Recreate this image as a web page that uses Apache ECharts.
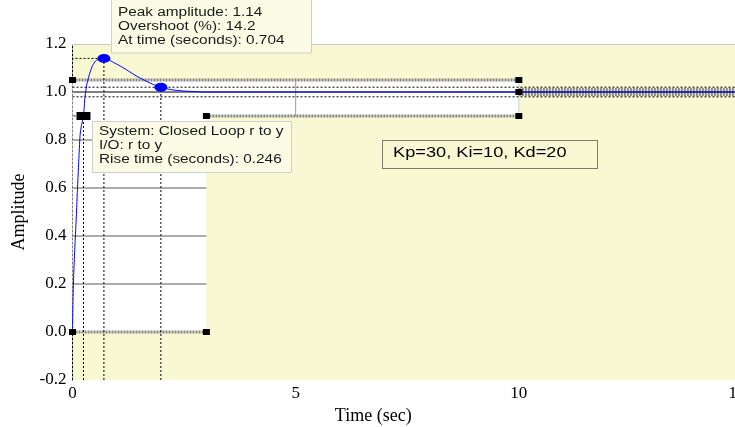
<!DOCTYPE html>
<html>
<head>
<meta charset="utf-8">
<script src="https://cdn.jsdelivr.net/npm/echarts@6/dist/echarts.min.js"></script>
<style>
  html, body { margin: 0; padding: 0; background: #fff; }
  #chart { width: 735px; height: 427px; }
</style>
</head>
<body>
<div id="chart"></div>
<script>
// Closed-loop step response (r to y) of the PID loop, Kp=30, Ki=10, Kd=20
const timeSec   = [0, 0.01, 0.02, 0.04, 0.06, 0.09, 0.11, 0.14, 0.17, 0.2, 0.246, 0.28, 0.33, 0.39, 0.45, 0.52, 0.6, 0.704, 0.8, 0.95, 1.1, 1.25, 1.4, 1.6, 1.8, 1.98, 2.2, 2.5, 3, 4, 5, 6, 8, 10, 12, 15];
const amplitude = [0, 0.12, 0.2, 0.3, 0.38, 0.5, 0.59, 0.71, 0.82, 0.86, 0.9, 0.98, 1.04, 1.08, 1.11, 1.13, 1.138, 1.14, 1.135, 1.12, 1.105, 1.088, 1.07, 1.05, 1.032, 1.02, 1.01, 1.004, 1.0, 1.0, 1.0, 1.0, 1.0, 1.0, 1.0, 1.0];

// Response characteristics
const peakPoint   = [0.704, 1.14];
const risePoint   = [0.246, 0.9];
const settlePoint = [1.98, 1.02];
const steadyState = 1.0;
const settleBand  = [0.98, 1.02];

// Highlighted regions and their handle lines
const whiteBoxes    = [[[0, 0], [3, 1.05]], [[3, 0.9], [10, 1.05]]];
const gridRows      = [0.2, 0.4, 0.6, 0.8];
const gridRowSpan   = [0, 3];
const boxDividers   = [[[5, 0.9], [5, 1.05]], [[10, 0.9], [10, 1.05]]];
const handleLines   = [[[0, 1.05], [10, 1.05]], [[3, 0.9], [10, 0.9]], [[0, 0], [3, 0]]];
const bandLine      = [[10, 1.0], [15, 1.0]];
const handleSquares = [[0, 1.05], [10, 1.05], [3, 0.9], [10, 0.9], [0, 0], [3, 0], [10, 1.0]];

// Axis ranges
const xRange = [0, 15], xStep = 5;
const yRange = [-0.2, 1.2], yStep = 0.2;

// Annotation texts
const peakLines = ['Peak amplitude: 1.14', 'Overshoot (%): 14.2', 'At time (seconds): 0.704'];
const riseLines = ['System: Closed Loop r to y', 'I/O: r to y', 'Rise time (seconds): 0.246'];
const gainText  = 'Kp=30, Ki=10, Kd=20';

const serif = 'Liberation Serif';
const sans  = 'Liberation Sans';
const yMin = yRange[0];

function seg(points, lineStyle, z) {
  return { type: 'line', data: points, symbol: 'none', silent: true, animation: false, lineStyle, z };
}

const series = [];

// white highlight regions
series.push({
  type: 'line', data: [], silent: true, z: 1,
  markArea: {
    silent: true,
    itemStyle: { color: '#ffffff', borderWidth: 0 },
    data: whiteBoxes.map(b => [{ coord: b[0] }, { coord: b[1] }])
  }
});

// grid rows inside the left region
gridRows.forEach(v => series.push(seg([[gridRowSpan[0], v], [gridRowSpan[1], v]], { color: '#5a5a5a', width: 1 }, 2)));
series.push(seg(boxDividers[0], { color: '#9a9a9a', width: 1 }, 2));
series.push(seg(boxDividers[1], { color: '#cfcfcf', width: 1 }, 2));

// thick handle lines
handleLines.forEach(l => series.push(seg(l, { color: '#858585', width: 3, type: [2, 1] }, 3)));
series.push(seg(bandLine, { color: '#8a8a8a', width: 8, type: [2, 1] }, 3));

// settling band and steady-state level
settleBand.forEach(v => series.push(seg([[xRange[0], v], [xRange[1], v]], { color: '#000', width: 1, type: [2, 2] }, 4)));
series.push(seg([[xRange[0], steadyState], [xRange[1], steadyState]], { color: '#000', width: 1 }, 4));

// characteristic guide lines
series.push(seg([[risePoint[0], yMin], risePoint, [xRange[0], risePoint[1]]], { color: '#000', width: 1, type: [2, 2] }, 4));
series.push(seg([[peakPoint[0], yMin], peakPoint, [xRange[0], peakPoint[1]]], { color: '#000', width: 1, type: [2, 2] }, 4));
series.push(seg([[settlePoint[0], yMin], settlePoint], { color: '#000', width: 1, type: [2, 2] }, 4));

// step response
series.push({
  type: 'line', name: 'Closed Loop r to y', silent: true, animation: false, z: 5,
  data: timeSec.map((t, i) => [t, amplitude[i]]),
  symbol: 'none', smooth: 0.2,
  lineStyle: { color: '#0000ff', width: 1 }
});

// characteristic markers
series.push({
  type: 'scatter', silent: true, animation: false, z: 6,
  data: [peakPoint, settlePoint], symbol: 'circle', symbolSize: [13, 9],
  itemStyle: { color: '#0000ff', opacity: 1 }
});
series.push({
  type: 'scatter', silent: true, animation: false, z: 7,
  data: [risePoint], symbol: 'rect', symbolSize: [14, 8],
  itemStyle: { color: '#000', opacity: 1 }
});
series.push({
  type: 'scatter', silent: true, animation: false, z: 7,
  data: handleSquares, symbol: 'rect', symbolSize: [7, 6],
  itemStyle: { color: '#000', opacity: 1 }
});

function textBlock(x, y, lines, size, scaleX, lineH, color) {
  return {
    type: 'group', x, y, scaleX, z: 100,
    children: lines.map((s, i) => ({
      type: 'text', x: 0, y: i * lineH, z: 100,
      style: { text: s, font: size + 'px "' + sans + '"', fill: color, textVerticalAlign: 'middle', verticalAlign: 'middle' }
    }))
  };
}

const tickFont = { color: '#000', fontFamily: serif, fontSize: 17 };

const chart = echarts.init(document.getElementById('chart'), null, { renderer: 'canvas' });
chart.setOption({
  animation: false,
  backgroundColor: '#ffffff',
  grid: {
    left: 72.5, right: -7, top: 44, bottom: 47,
    outerBoundsMode: 'none', containLabel: false,
    show: true, backgroundColor: '#f8f8d2', borderWidth: 0
  },
  xAxis: [
    {
      type: 'value', min: xRange[0], max: xRange[1], interval: xStep,
      axisLine: { show: false }, axisTick: { show: false }, splitLine: { show: false },
      axisLabel: Object.assign({ margin: 5, showMaxLabel: false }, tickFont),
      name: 'Time (sec)', nameLocation: 'middle', nameGap: 22,
      nameTextStyle: { color: '#000', fontFamily: serif, fontSize: 18, padding: [0, 68, 0, 0] }
    },
    {
      type: 'value', position: 'top', min: xRange[0], max: xRange[1],
      axisLine: { show: true, lineStyle: { color: '#c8c8c8', width: 1 } },
      axisTick: { show: false }, axisLabel: { show: false }, splitLine: { show: false }
    }
  ],
  yAxis: {
    type: 'value', min: yRange[0], max: yRange[1], interval: yStep,
    axisLine: { show: true, lineStyle: { color: '#000', width: 1, type: [2, 2] } },
    axisTick: { show: false }, splitLine: { show: false },
    axisLabel: Object.assign({ margin: 6, formatter: v => v.toFixed(1) }, tickFont),
    name: 'Amplitude', nameLocation: 'middle', nameRotate: 90, nameGap: 44,
    nameTextStyle: { color: '#000', fontFamily: serif, fontSize: 18 }
  },
  series,
  graphic: [
    { id: 'peakBox', type: 'rect', z: 99, shape: { x: 111.5, y: -5, width: 200, height: 58 },
      style: { fill: '#fcfce6', stroke: '#cfcfcf', lineWidth: 1 } },
    Object.assign({ id: 'peakText' }, textBlock(118, 13, peakLines, 12, 1.28, 14, '#1a1a1a')),
    { id: 'riseBox', type: 'rect', z: 99, shape: { x: 92.5, y: 121.5, width: 199, height: 51 },
      style: { fill: '#fcfce6', stroke: '#cfcfcf', lineWidth: 1 } },
    Object.assign({ id: 'riseText' }, textBlock(99, 132, riseLines, 12, 1.28, 13.7, '#1a1a1a')),
    { id: 'gainBox', type: 'rect', z: 99, shape: { x: 382.5, y: 140.5, width: 215, height: 28 },
      style: { fill: 'none', stroke: '#000', lineWidth: 1, lineDash: [1, 1] } },
    Object.assign({ id: 'gainText' }, textBlock(393, 153, [gainText], 14, 1.3, 14, '#000'))
  ]
});

// last tick label runs past the right edge of the page; place it from the axis scale
const tickX = chart.convertToPixel({ xAxisIndex: 0 }, xRange[1]);
const tickY = chart.convertToPixel({ yAxisIndex: 0 }, yMin);
if (isFinite(tickX) && isFinite(tickY)) {
  chart.setOption({
    graphic: [{
      id: 'lastXTick', type: 'text', z: 50, x: tickX - 5, y: tickY + 5,
      style: { text: String(xRange[1]), font: '17px "' + serif + '"', fill: '#000', align: 'center', verticalAlign: 'top' }
    }]
  });
}
</script>
</body>
</html>
